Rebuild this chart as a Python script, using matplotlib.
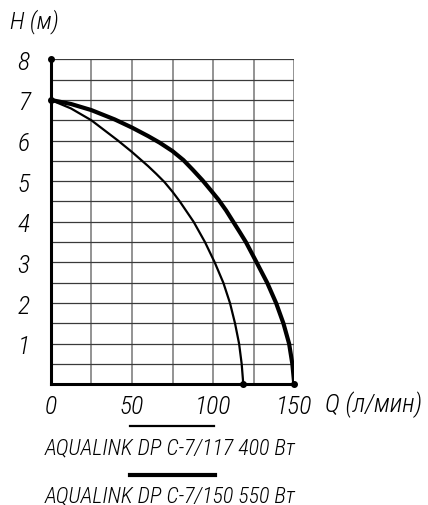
import matplotlib
matplotlib.use("Agg")
import matplotlib.pyplot as plt
from matplotlib import font_manager

# Data
q_117 = [0, 12.5, 25, 41.4, 50, 60, 65, 70, 75, 79.5, 88, 95, 101, 106.3, 110.4, 113.5, 116, 117.6, 118.6]
h_117 = [7, 6.79, 6.5, 6.0, 5.72, 5.37, 5.18, 4.98, 4.74, 4.5, 4.0, 3.5, 3.0, 2.5, 2.0, 1.5, 1.0, 0.5, 0]
q_150 = [0, 12.5, 25, 39.4, 50, 60, 67, 75, 81.7, 87.5, 93.5, 98.5, 103.2, 108, 112.4, 116.5, 120.2,
         126.8, 133.3, 138.8, 143.3, 146.8, 148.8, 150]
h_150 = [7, 6.9, 6.75, 6.52, 6.32, 6.11, 5.95, 5.74, 5.52, 5.28, 5.02, 4.78, 4.55, 4.28, 4.0, 3.74, 3.5,
         3.0, 2.5, 2.0, 1.5, 1.0, 0.5, 0]
x_ticks = [0, 50, 100, 150]
y_ticks = [1, 2, 3, 4, 5, 6, 7, 8]
label_117 = "AQUALINK DP C-7/117 400 Вт"
label_150 = "AQUALINK DP C-7/150 550 Вт"
x_label = "Q (л/мин)"
y_label = "H (м)"

# pick a narrow font if one is available
avail = {f.name for f in font_manager.fontManager.ttflist}
cands = ["Roboto Condensed", "Liberation Sans Narrow", "DejaVu Sans Condensed",
         "Noto Sans Condensed", "Open Sans Condensed"]
chosen = None
stretch = "normal"
for c in cands:
    if c in avail:
        chosen = c
        break
if chosen is None:
    for f in font_manager.fontManager.ttflist:
        if isinstance(f.stretch, str) and "condensed" in f.stretch and f.name in ("DejaVu Sans", "Noto Sans", "Open Sans", "Roboto"):
            chosen = f.name
            stretch = "condensed"
            break
narrow = chosen is not None
if chosen is None:
    chosen = "Roboto"
FONT = [chosen, "DejaVu Sans"]
TK = dict(family=FONT, style="italic", stretch=stretch, weight="light")

W, H = 428, 506
fig = plt.figure(figsize=(W / 100, H / 100), dpi=100)
fig.patch.set_facecolor("white")


def fx(px):
    return px / W


def fy(py):
    return 1 - py / H


left, right, top, bottom = 50.7, 294.3, 60.3, 385.3
ax = fig.add_axes([fx(left), fy(bottom), fx(right - left), (bottom - top) / H])
ax.set_xlim(0, 150)
ax.set_ylim(0, 8)

# grid
for q in range(0, 151, 25):
    ax.axvline(q, color="#808080", lw=1.2, zorder=1)
for i in range(0, 17):
    ax.axhline(i * 0.5, color="#3a3a3a", lw=0.9, zorder=1)

for s in ["top", "right"]:
    ax.spines[s].set_visible(False)
ax.spines["left"].set_linewidth(2.2)
ax.spines["bottom"].set_linewidth(2.2)
ax.spines["left"].set_zorder(5)
ax.spines["bottom"].set_zorder(5)

ax.plot(q_117, h_117, color="black", lw=1.6, zorder=4,
        solid_capstyle="round", solid_joinstyle="round")
ax.plot(q_150, h_150, color="black", lw=3.0, zorder=4,
        solid_capstyle="round", solid_joinstyle="round")

# dots
ax.plot([0, 0, q_117[-1], q_150[-1]], [8, 7, 0, 0], "o", color="black",
        ms=4, zorder=6, clip_on=False)

tick_fs = 18.5 if narrow else 15
ax.set_xticks(x_ticks)
ax.set_yticks(y_ticks)
ax.set_xticklabels([str(v) for v in x_ticks], fontsize=tick_fs, **TK)
ax.set_yticklabels([str(v) for v in y_ticks], fontsize=tick_fs, **TK)
ax.tick_params(axis="both", length=0)
ax.tick_params(axis="y", pad=15)
ax.tick_params(axis="x", pad=7)

fig.text(fx(325), fy(405), x_label, fontsize=tick_fs, ha="left", va="center", **TK)
fig.text(fx(10), fy(22), y_label, fontsize=tick_fs - 1, ha="left", va="center", **TK)

# legend
fig.add_artist(plt.Line2D([fx(130), fx(214)], [fy(427.3), fy(427.3)],
                          color="black", lw=1.6, transform=fig.transFigure))
fig.add_artist(plt.Line2D([fx(130), fx(215)], [fy(476.3), fy(476.3)],
                          color="black", lw=3.0, transform=fig.transFigure))
t1 = fig.text(fx(45), fy(448.5), label_117, fontsize=12, ha="left", va="center", **TK)
t2 = fig.text(fx(45), fy(496.5), label_150, fontsize=12, ha="left", va="center", **TK)

# fit legend text to the reference width (about 252 px)
fig.canvas.draw()
r = fig.canvas.get_renderer()
for t in (t1, t2):
    w = t.get_window_extent(r).width
    t.set_fontsize(12 * 252.0 / w)

fig.savefig("out.png", dpi=100, facecolor="white")
